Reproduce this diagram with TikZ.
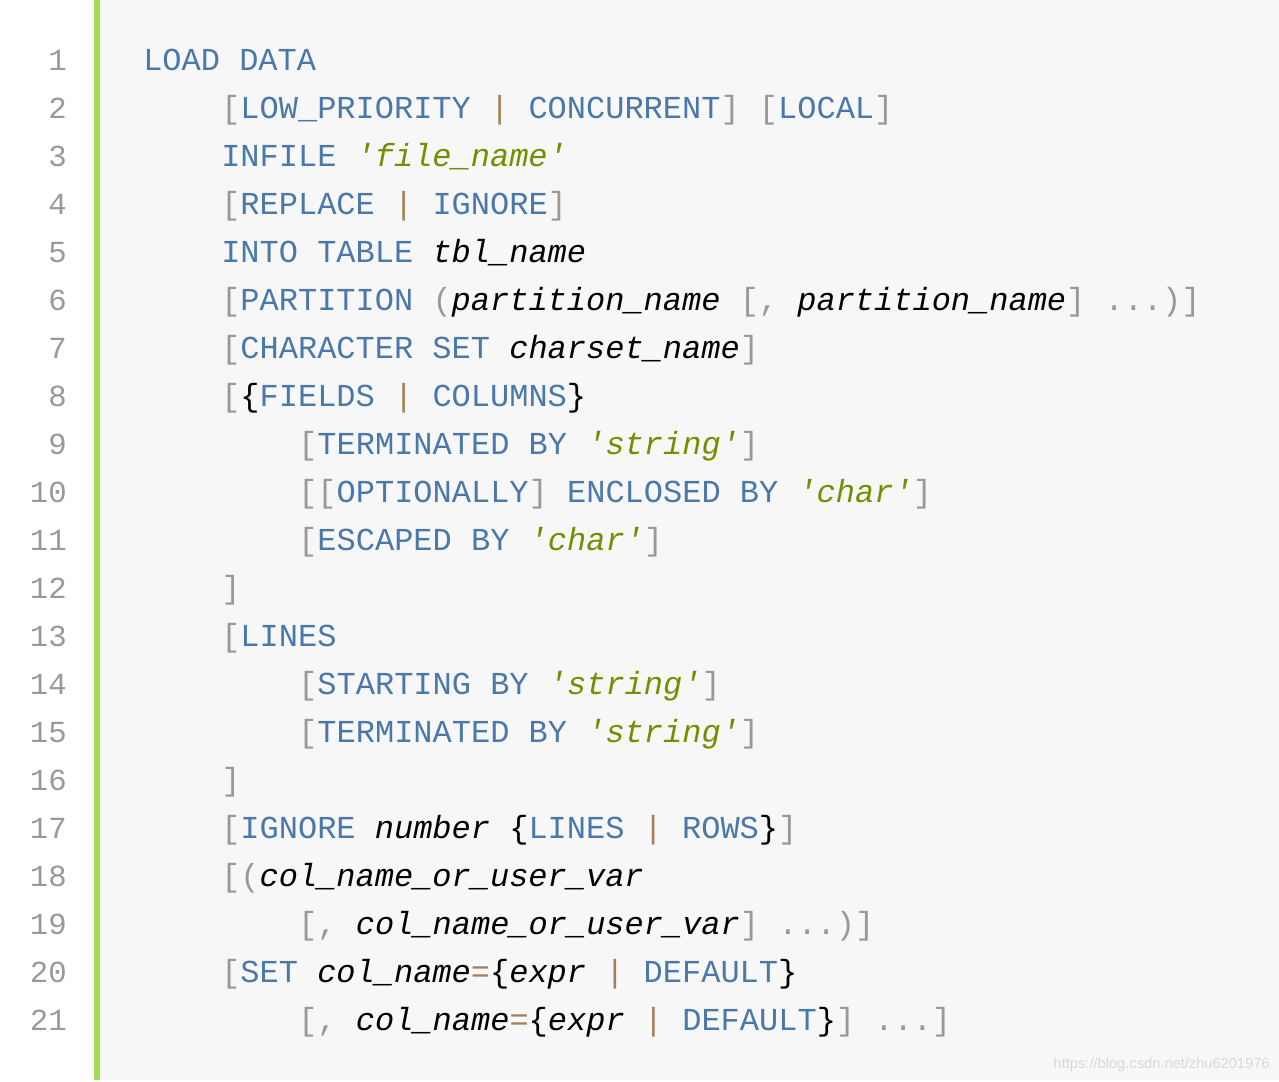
\documentclass[tikz,border=0pt]{standalone}
\usepackage{fontspec}
\setmonofont{Liberation Mono}
\setmainfont{Liberation Sans}
\definecolor{kwc}{HTML}{4A78A8}
\definecolor{puc}{HTML}{999999}
\definecolor{stc}{HTML}{6F9100}
\definecolor{opc}{HTML}{A67F59}
\definecolor{lnc}{HTML}{999999}
\definecolor{barc}{HTML}{A5DA55}
\definecolor{bgc}{HTML}{F7F7F7}
\newcommand{\kw}[1]{\textcolor{kwc}{#1}}
\newcommand{\pu}[1]{\textcolor{puc}{#1}}
\newcommand{\st}[1]{\textcolor{stc}{\itshape #1}}
\newcommand{\idn}[1]{{\itshape #1}}
\newcommand{\op}[1]{\textcolor{opc}{#1}}
\tikzset{code/.style={anchor=base west,inner sep=0pt,font=\ttfamily\fontsize{24}{28}\selectfont},
lnum/.style={anchor=base east,inner sep=0pt,text=lnc,font=\ttfamily\fontsize{23}{28}\selectfont}}
\begin{document}
\begin{tikzpicture}[x=0.75pt,y=-0.75pt]
\useasboundingbox (0,0) rectangle (1279,1082);
\fill[white] (0,0) rectangle (1279,1082);
\fill[bgc] (100,0) rectangle (1279,1080);
\fill[barc] (94,0) rectangle (100,1080);
\foreach \n in {1,...,21}{\node[lnum] (n\n) at (67,{70+48*(\n-1)}) {\n};}
\def\c{19.2}
\node[code] (l1) at (143,70) {\kw{LOAD DATA}};
\node[code] (l2) at (221,118) {\pu{[}\kw{LOW\_PRIORITY} \op{|} \kw{CONCURRENT}\pu{]} \pu{[}\kw{LOCAL}\pu{]}};
\node[code] (l3) at (221,166) {\kw{INFILE} \st{'file\_name'}};
\node[code] (l4) at (221,214) {\pu{[}\kw{REPLACE} \op{|} \kw{IGNORE}\pu{]}};
\node[code] (l5) at (221,262) {\kw{INTO TABLE} \idn{tbl\_name}};
\node[code] (l6) at (221,310) {\pu{[}\kw{PARTITION} \pu{(}\idn{partition\_name} \pu{[,} \idn{partition\_name}\pu{]} \pu{...)]}};
\node[code] (l7) at (221,358) {\pu{[}\kw{CHARACTER SET} \idn{charset\_name}\pu{]}};
\node[code] (l8) at (221,406) {\pu{[}\{\kw{FIELDS} \op{|} \kw{COLUMNS}\}};
\node[code] (l9) at (298,454) {\pu{[}\kw{TERMINATED BY} \st{'string'}\pu{]}};
\node[code] (l10) at (298,502) {\pu{[[}\kw{OPTIONALLY}\pu{]} \kw{ENCLOSED BY} \st{'char'}\pu{]}};
\node[code] (l11) at (298,550) {\pu{[}\kw{ESCAPED BY} \st{'char'}\pu{]}};
\node[code] (l12) at (221,598) {\pu{]}};
\node[code] (l13) at (221,646) {\pu{[}\kw{LINES}};
\node[code] (l14) at (298,694) {\pu{[}\kw{STARTING BY} \st{'string'}\pu{]}};
\node[code] (l15) at (298,742) {\pu{[}\kw{TERMINATED BY} \st{'string'}\pu{]}};
\node[code] (l16) at (221,790) {\pu{]}};
\node[code] (l17) at (221,838) {\pu{[}\kw{IGNORE} \idn{number} \{\kw{LINES} \op{|} \kw{ROWS}\}\pu{]}};
\node[code] (l18) at (221,886) {\pu{[(}\idn{col\_name\_or\_user\_var}};
\node[code] (l19) at (298,934) {\pu{[,} \idn{col\_name\_or\_user\_var}\pu{]} \pu{...)]}};
\node[code] (l20) at (221,982) {\pu{[}\kw{SET} \idn{col\_name}\op{=}\{\idn{expr} \op{|} \kw{DEFAULT}\}};
\node[code] (l21) at (298,1030) {\pu{[,} \idn{col\_name}\op{=}\{\idn{expr} \op{|} \kw{DEFAULT}\}\pu{]} \pu{...]}};
\node[anchor=base east,inner sep=0pt,text=black!15,font=\fontsize{11}{13}\selectfont] (wm) at (1270,1068) {https://blog.csdn.net/zhu6201976};
\end{tikzpicture}
\end{document}
